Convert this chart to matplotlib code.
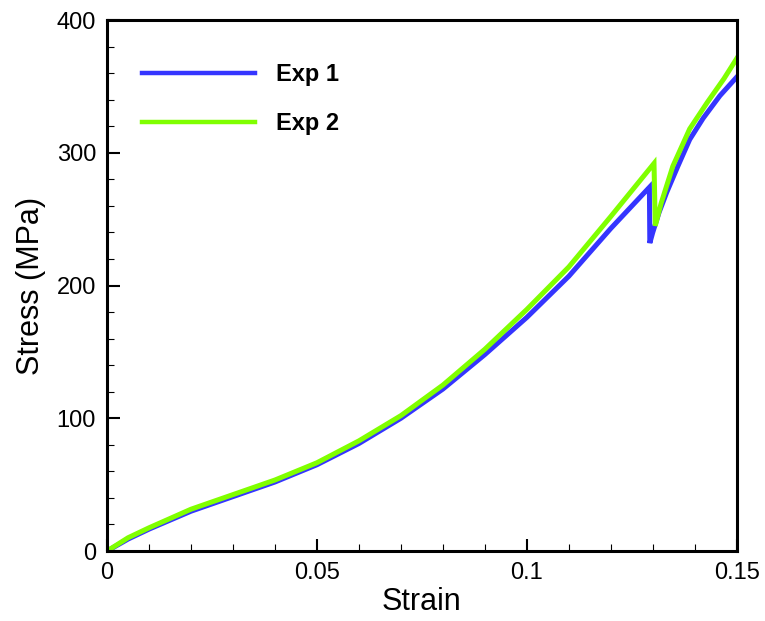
import numpy as np
import matplotlib
matplotlib.use('Agg')
import matplotlib.pyplot as plt
from matplotlib.ticker import MultipleLocator

plt.rcParams['font.family'] = ['Liberation Sans', 'DejaVu Sans']

# Exp 1 (blue)
strain1 = [0, 0.005, 0.01, 0.02, 0.03, 0.04, 0.05, 0.06, 0.07, 0.08, 0.09, 0.1,
           0.11, 0.12, 0.1289, 0.1292, 0.1293, 0.130, 0.1315, 0.1333, 0.136,
           0.1388, 0.142, 0.146, 0.15]
stress1 = [0, 9, 16.5, 30, 41, 52, 65, 81, 100, 122, 148, 176,
           207, 243, 273, 274, 232, 240, 255, 270, 290,
           310, 326, 343, 357]

# Exp 2 (green)
strain2 = [0, 0.005, 0.01, 0.02, 0.03, 0.04, 0.05, 0.06, 0.07, 0.08, 0.09, 0.1,
           0.11, 0.12, 0.1303, 0.1306, 0.132, 0.1348, 0.1388, 0.143, 0.147, 0.15]
stress2 = [0, 10, 17.5, 31.5, 42.5, 53.5, 66.5, 83, 102, 125, 152, 182,
           214, 252, 292, 245, 262, 290, 318, 338, 356, 371]

xticks = [0, 0.05, 0.1, 0.15]
xticklabels = ['0', '0.05', '0.1', '0.15']
yticks = [0, 100, 200, 300, 400]
yticklabels = ['0', '100', '200', '300', '400']

fig = plt.figure(figsize=(7.65, 6.21), dpi=100)
ax = fig.add_axes([0.140, 0.1127, 0.823, 0.855])

ax.plot(strain1, stress1, color='#3535ff', lw=3.6, label='Exp 1', solid_joinstyle='miter')
ax.plot(strain2, stress2, color='#80ff00', lw=3.6, label='Exp 2', solid_joinstyle='miter')

ax.set_xlim(0, 0.15)
ax.set_ylim(0, 400)
ax.xaxis.set_minor_locator(MultipleLocator(0.01))
ax.yaxis.set_minor_locator(MultipleLocator(20))
ax.set_xticks(xticks)
ax.set_xticklabels(xticklabels)
ax.set_yticks(yticks)
ax.set_yticklabels(yticklabels)
ax.tick_params(which='major', direction='in', length=9, width=1.5, labelsize=17, pad=8)
ax.tick_params(which='minor', direction='in', length=5, width=0.8)
for s in ax.spines.values():
    s.set_linewidth(2.2)

ax.set_xlabel('Strain', fontsize=22, labelpad=2)
ax.set_ylabel('Stress (MPa)', fontsize=22, labelpad=8)

leg = ax.legend(loc='center left', bbox_to_anchor=(0.0556, 0.851), frameon=False,
                borderpad=0, borderaxespad=0,
                handlelength=4.8, handletextpad=0.85, labelspacing=1.1,
                prop={'weight': 'bold', 'size': 17})
for h in leg.get_lines():
    h.set_linewidth(3.2)

fig.savefig('out.png', dpi=100)
